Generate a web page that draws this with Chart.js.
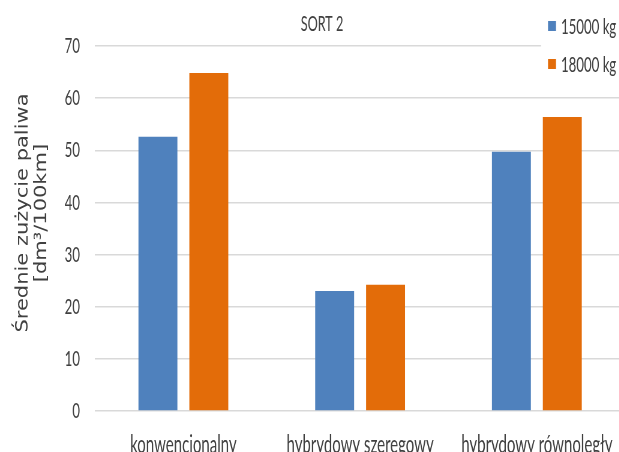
<!DOCTYPE html>
<html><head><meta charset="utf-8">
<script src="https://cdn.jsdelivr.net/npm/chart.js@4.4.1/dist/chart.umd.min.js"></script>
<style>
html,body{margin:0;padding:0;background:#fff;overflow:hidden;width:619px;height:452px}
#wrap{position:absolute;left:0;top:0;width:627px;height:462px}
#c{display:block}
</style></head><body>
<!-- the drawing surface is wider than its display box, so the whole chart renders horizontally condensed -->
<div id="wrap"><canvas id="c" width="1045" height="462" style="width:627px;height:462px"></canvas></div>
<script>
// Average fuel consumption per drivetrain type, two vehicle masses
const chartTitle = 'SORT 2';
const categories = ['konwencjonalny', 'hybrydowy szeregowy', 'hybrydowy równoległy'];
const seriesNames = ['15000 kg', '18000 kg'];
const load15000 = [52.6, 23.0, 49.7];
const load18000 = [64.8, 24.2, 56.4];
const yTicks = [0, 10, 20, 30, 40, 50, 60, 70];
const axisTitle = ['Średnie zużycie paliwa', '[dm³/100km]'];
const seriesColors = ['#4F81BD', '#E36C09'];

const squeeze = 627 / 1045;          // display width / drawing width
const px = v => v / squeeze;         // display x -> drawing x
const bodyFont = "Lato, 'Liberation Sans', sans-serif";
const textColor = '#404040';

// Title, rotated axis title and the side legend
const decorations = {
  id: 'decorations',
  afterDraw(chart) {
    const ctx = chart.ctx;
    ctx.save();
    // legend panel sits over the top grid line
    ctx.fillStyle = '#ffffff';
    ctx.fillRect(px(541), 0, chart.width - px(541), 86);
    ctx.font = "22px " + bodyFont;
    ctx.textBaseline = 'middle';
    ctx.textAlign = 'left';
    chart.data.datasets.forEach((ds, i) => {
      const cy = 26 + i * 38;
      ctx.fillStyle = ds.backgroundColor;
      ctx.fillRect(px(548), cy - 5, px(8), 10);
      ctx.fillStyle = textColor;
      ctx.fillText(ds.label, px(561), cy + 1);
    });
    // chart title
    ctx.font = "21px " + bodyFont;
    ctx.textAlign = 'center';
    ctx.fillStyle = textColor;
    ctx.fillText(chartTitle, px(322), 24);
    // y-axis title, two lines, rotated
    const k = 0.8 / squeeze;
    ctx.translate(0, 213);
    ctx.rotate(-Math.PI / 2);
    ctx.scale(1, k);
    ctx.font = "21px 'DejaVu Sans', sans-serif";
    ctx.textAlign = 'center';
    ctx.textBaseline = 'middle';
    ctx.fillStyle = textColor;
    axisTitle.forEach((t, i) => ctx.fillText(t, 0, px(23 + i * 19) / k));
    ctx.restore();
  }
};

new Chart(document.getElementById('c'), {
  type: 'bar',
  data: {
    labels: categories,
    datasets: [
      { label: seriesNames[0], data: load15000, backgroundColor: seriesColors[0] },
      { label: seriesNames[1], data: load18000, backgroundColor: seriesColors[1] }
    ]
  },
  options: {
    responsive: false,
    animation: false,
    devicePixelRatio: 1,
    layout: { padding: { left: 0, top: 46, right: 3, bottom: 0 } },
    datasets: { bar: { categoryPercentage: 0.576, barPercentage: 0.765 } },
    plugins: { legend: { display: false }, title: { display: false }, tooltip: { enabled: false } },
    scales: {
      x: {
        grid: { display: false, drawTicks: false },
        border: { display: false },
        ticks: { font: { family: bodyFont, size: 25 }, color: textColor, padding: 19, maxRotation: 0, autoSkip: false },
        afterFit(s) { s.height = 51; s.paddingLeft = 0; s.paddingRight = 0; }
      },
      y: {
        min: yTicks[0],
        max: yTicks[yTicks.length - 1],
        afterBuildTicks(s) { s.ticks = yTicks.map(v => ({ value: v })); },
        grid: { color: '#d9d9d9', lineWidth: 1.5, drawTicks: false },
        border: { display: false },
        ticks: { font: { family: bodyFont, size: 22 }, color: textColor, padding: 25 },
        afterFit(s) { s.width = px(95); s.paddingTop = 0; s.paddingBottom = 0; }
      }
    }
  },
  plugins: [decorations]
});
</script>
</body></html>
